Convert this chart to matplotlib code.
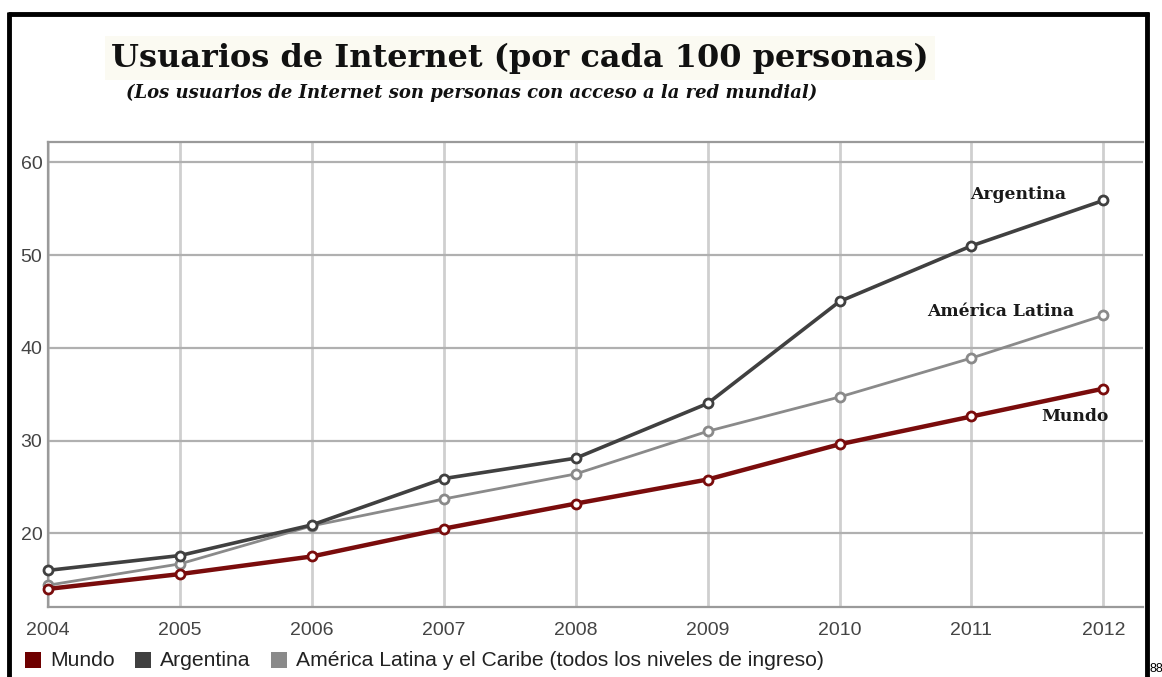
import matplotlib
matplotlib.use("Agg")
import matplotlib.pyplot as plt
from matplotlib.lines import Line2D
from matplotlib.patches import Rectangle

years = [2004, 2005, 2006, 2007, 2008, 2009, 2010, 2011, 2012]
mundo = [14.0, 15.6, 17.5, 20.5, 23.2, 25.8, 29.6, 32.6, 35.6]
argentina = [16.0, 17.6, 20.9, 25.9, 28.1, 34.0, 45.0, 51.0, 55.9]
america_latina = [14.4, 16.7, 20.8, 23.7, 26.4, 31.0, 34.7, 38.9, 43.5]
yticks = [20, 30, 40, 50, 60]

series_names = ["Mundo", "Argentina", "América Latina y el Caribe (todos los niveles de ingreso)"]
end_labels = ["Mundo", "Argentina", "América Latina"]
colors = ["#7a0c0c", "#404040", "#8a8a8a"]

W, H = 1162, 677
fig = plt.figure(figsize=(W / 100, H / 100), dpi=100)
fig.patch.set_facecolor("white")

def fx(px):
    return px / W

def fy(py):
    return 1 - py / H

ax = fig.add_axes([fx(48), fy(607), fx(1143) - fx(48), fy(142) - fy(607)])
ax.set_xlim(2004, 2012.3)
ax.set_ylim(12.05, 62.2)
ax.set_xticks(years)
ax.set_yticks(yticks)
ax.set_xticklabels([str(y) for y in years])
ax.set_yticklabels([str(v) for v in yticks])
ax.tick_params(length=0, labelsize=14, labelcolor="#444444")
ax.tick_params(axis="x", pad=11)
ax.tick_params(axis="y", pad=4)
for lab in ax.get_xticklabels() + ax.get_yticklabels():
    lab.set_fontfamily("Liberation Sans")
ax.grid(axis="x", color="#cfcfcf", linewidth=2)
ax.grid(axis="y", color="#b0b0b0", linewidth=1.6)
ax.set_axisbelow(True)
for side in ["left", "top", "bottom"]:
    ax.spines[side].set_color("#9a9a9a")
    ax.spines[side].set_linewidth(1.6)
ax.spines["right"].set_visible(False)

data = [mundo, argentina, america_latina]
widths = [3.2, 2.6, 2.0]
order = [2, 1, 0]
for i in order:
    ax.plot(years, data[i], color=colors[i], linewidth=widths[i], marker="o",
            markersize=6.5, markerfacecolor="white", markeredgecolor=colors[i],
            markeredgewidth=2.0, zorder=3 + (2 - i), clip_on=False)

lab_font = dict(family="DejaVu Serif", fontsize=12.3, fontweight="bold", color="#1a1a1a")
ax.text(2011.35, argentina[-1] + 0.6, end_labels[1], ha="center", va="center", **lab_font)
ax.text(2011.22, america_latina[-1] + 0.4, end_labels[2], ha="center", va="center", **lab_font)
ax.text(2012.04, mundo[-1] - 3.0, end_labels[0], ha="right", va="center", **lab_font)

# Title and subtitle
fig.text(fx(520), fy(58), "Usuarios de Internet (por cada 100 personas)",
         ha="center", va="center", family="DejaVu Serif", fontweight="bold",
         fontsize=23, color="#111111",
         bbox=dict(boxstyle="square,pad=0.2", facecolor="#fbfaf2", edgecolor="none"))
fig.text(fx(472), fy(93), "(Los usuarios de Internet son personas con acceso a la red mundial)",
         ha="center", va="center", family="DejaVu Serif", fontweight="bold",
         style="italic", fontsize=13, color="#111111")

# Legend
legend_x = [25, 135, 271]
text_off = 25
for i, name in enumerate(series_names):
    fig.patches.append(Rectangle((fx(legend_x[i]), fy(668)), fx(16), fy(652) - fy(668),
                                 transform=fig.transFigure, facecolor=colors[i] if i else "#6e0000",
                                 edgecolor="none"))
    fig.text(fx(legend_x[i] + text_off), fy(660), name, ha="left", va="center",
             family="Liberation Sans", fontsize=15.2, color="#222222")

# Frame border
border_kw = dict(transform=fig.transFigure, color="black", linewidth=3.5, solid_capstyle="butt")
fig.lines.append(Line2D([fx(9), fx(9)], [fy(11.5), 0], **border_kw))
fig.lines.append(Line2D([fx(1147), fx(1147)], [fy(11.5), 0], **border_kw))
fig.lines.append(Line2D([fx(7.5), fx(1148.5)], [fy(13.5), fy(13.5)], **border_kw))

fig.text(fx(1150), fy(669), "88", ha="left", va="center", fontsize=9,
         family="Liberation Sans", color="black")

fig.savefig("out.png", dpi=100, facecolor="white")
